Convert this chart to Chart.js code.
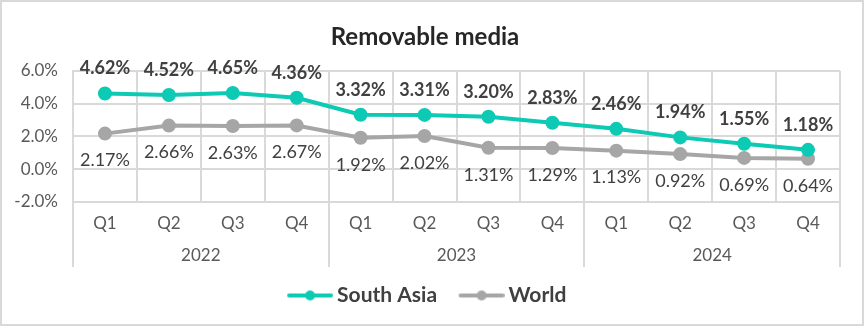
<!DOCTYPE html>
<html>
<head>
<meta charset="utf-8">
<script src="https://cdn.jsdelivr.net/npm/chart.js@4/dist/chart.umd.min.js"></script>
<style>
  html, body { margin: 0; padding: 0; background: #ffffff; }
  #wrap { width: 864px; height: 326px; }
</style>
</head>
<body>
<div id="wrap"><canvas id="chart" width="864" height="326"></canvas></div>
<script>
// chart data
var quarterLabels = ["Q1", "Q2", "Q3", "Q4", "Q1", "Q2", "Q3", "Q4", "Q1", "Q2", "Q3", "Q4"];
var yearLabels = ["2022", "2023", "2024"];
var southAsiaData = [4.62, 4.52, 4.65, 4.36, 3.32, 3.31, 3.20, 2.83, 2.46, 1.94, 1.55, 1.18];
var worldData = [2.17, 2.66, 2.63, 2.67, 1.92, 2.02, 1.31, 1.29, 1.13, 0.92, 0.69, 0.64];

var tealColor = "#0ccab3";
var greyColor = "#a6a6a6";
var gridColor = "#d9d9d9";
var fontName = "Lato, 'Noto Sans', sans-serif";

// legend marker: a short line with a dot, pushed to the right side of the image
function legendMarker(color) {
    var c = document.createElement("canvas");
    c.width = 56;
    c.height = 12;
    var g = c.getContext("2d");
    g.strokeStyle = color;
    g.lineWidth = 4;
    g.lineCap = "round";
    g.beginPath();
    g.moveTo(12, 6);
    g.lineTo(54, 6);
    g.stroke();
    g.fillStyle = color;
    g.beginPath();
    g.arc(33, 6, 5, 0, Math.PI * 2);
    g.fill();
    return c;
}

// outer grey frame
var framePlugin = {
    id: "frame",
    beforeDraw: function (chart) {
        var ctx = chart.ctx;
        ctx.save();
        ctx.fillStyle = "#ffffff";
        ctx.fillRect(0, 0, chart.width, chart.height);
        ctx.strokeStyle = gridColor;
        ctx.lineWidth = 2;
        ctx.strokeRect(1, 1, chart.width - 2, chart.height - 2);
        ctx.restore();
    }
};

// year separator lines running down through the quarter row
var yearLinesPlugin = {
    id: "yearLines",
    afterDraw: function (chart) {
        var xs = chart.scales.x;
        var ys = chart.scales.x2;
        var ctx = chart.ctx;
        var step = xs.width / quarterLabels.length;
        ctx.save();
        ctx.strokeStyle = gridColor;
        ctx.lineWidth = 2;
        for (var i = 0; i <= quarterLabels.length; i += 4) {
            var px = Math.round(xs.left + i * step);
            ctx.beginPath();
            ctx.moveTo(px, chart.chartArea.bottom);
            ctx.lineTo(px, ys.bottom);
            ctx.stroke();
        }
        ctx.restore();
    }
};

// value labels: south asia above (bold), world below
var valueLabelPlugin = {
    id: "valueLabels",
    afterDatasetsDraw: function (chart) {
        var ctx = chart.ctx;
        ctx.save();
        ctx.textAlign = "center";
        ctx.textBaseline = "middle";
        chart.data.datasets.forEach(function (ds, di) {
            var meta = chart.getDatasetMeta(di);
            meta.data.forEach(function (pt, i) {
                var txt = ds.data[i].toFixed(2) + "%";
                ctx.fillStyle = "#404040";
                if (di == 0) {
                    ctx.font = "bold 18px " + fontName;
                    ctx.fillText(txt, pt.x, pt.y - 25);
                } else {
                    ctx.font = "18px " + fontName;
                    ctx.fillText(txt, pt.x, pt.y + 27);
                }
            });
        });
        ctx.restore();
    }
};

var ctx = document.getElementById("chart").getContext("2d");
var myChart = new Chart(ctx, {
    type: "line",
    data: {
        labels: quarterLabels,
        datasets: [{
            label: "South Asia",
            data: southAsiaData,
            borderColor: tealColor,
            backgroundColor: tealColor,
            borderWidth: 4,
            pointRadius: 5,
            pointHoverRadius: 5,
            pointStyle: "circle",
            tension: 0
        }, {
            label: "World",
            data: worldData,
            borderColor: greyColor,
            backgroundColor: greyColor,
            borderWidth: 4,
            pointRadius: 5,
            pointHoverRadius: 5,
            pointStyle: "circle",
            tension: 0
        }]
    },
    options: {
        responsive: false,
        animation: false,
        events: [],
        layout: { padding: { left: 10, right: 24, top: 0, bottom: 10 } },
        plugins: {
            title: {
                display: true,
                text: "Removable media",
                color: "#262626",
                font: { family: fontName, size: 24, weight: "bold" },
                padding: { top: 23, bottom: 19 }
            },
            legend: {
                position: "bottom",
                labels: {
                    usePointStyle: true,
                    pointStyleWidth: 43,
                    boxHeight: 12,
                    padding: 18,
                    color: "#404040",
                    font: { family: fontName, size: 21, weight: "bold" },
                    generateLabels: function (chart) {
                        return chart.data.datasets.map(function (ds, i) {
                            return {
                                text: ds.label,
                                pointStyle: legendMarker(ds.borderColor),
                                fillStyle: ds.borderColor,
                                strokeStyle: ds.borderColor,
                                lineWidth: 0,
                                fontColor: "#404040",
                                datasetIndex: i
                            };
                        });
                    }
                }
            },
            tooltip: { enabled: false }
        },
        scales: {
            x: {
                type: "category",
                offset: true,
                grid: { color: gridColor, lineWidth: 2, offset: true, drawTicks: false },
                border: { display: false },
                ticks: {
                    color: "#595959",
                    padding: 11,
                    font: { family: fontName, size: 17 },
                    maxRotation: 0
                },
                afterFit: function (scale) { scale.height = 36; }
            },
            x2: {
                type: "category",
                labels: yearLabels,
                offset: true,
                position: "bottom",
                grid: { display: false, drawTicks: false },
                border: { display: false },
                ticks: {
                    color: "#595959",
                    padding: 7,
                    font: { family: fontName, size: 17 },
                    maxRotation: 0
                },
                afterFit: function (scale) { scale.height = 29; }
            },
            y: {
                min: -2,
                max: 6,
                grid: { color: gridColor, lineWidth: 2, drawTicks: false },
                border: { display: true, color: gridColor, width: 2 },
                ticks: {
                    stepSize: 2,
                    color: "#595959",
                    padding: 15,
                    font: { family: fontName, size: 17 },
                    callback: function (v) { return v.toFixed(1) + "%"; }
                },
                afterFit: function (scale) { scale.width = 63; }
            }
        }
    },
    plugins: [framePlugin, yearLinesPlugin, valueLabelPlugin]
});
</script>
</body>
</html>
